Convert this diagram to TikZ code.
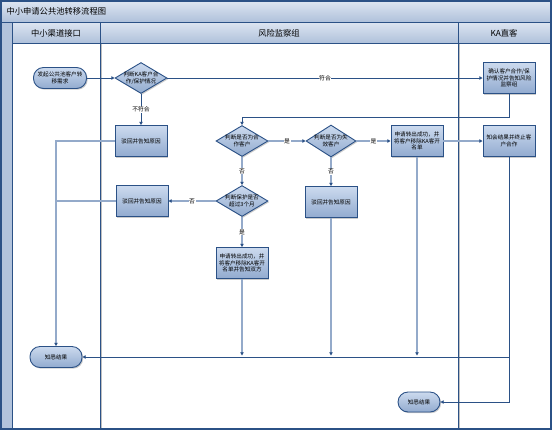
\documentclass[tikz,border=0pt]{standalone}
\usepackage{fontspec}
\setmainfont{Noto Sans CJK SC}
\usetikzlibrary{shapes.geometric,shadows,arrows.meta}
\definecolor{dk}{HTML}{2B5186}
\definecolor{lt}{HTML}{94AACA}
\definecolor{ftop}{HTML}{CCDAEE}
\definecolor{fbot}{HTML}{92ABCF}
\definecolor{htop}{HTML}{DDE5F1}
\definecolor{hbot}{HTML}{AFC1DB}
\definecolor{strip}{HTML}{B2C3DC}
\begin{document}
\begin{tikzpicture}[x=1pt,y=-1pt,
  shad/.style={drop shadow={shadow xshift=1.2pt,shadow yshift=-1.2pt,fill=black!40,opacity=0.5}},
  box/.style={rectangle,draw=dk,line width=0.9pt,top color=ftop,bottom color=fbot,
    minimum width=52pt,minimum height=31pt,inner sep=0.5pt,
    font=\fontsize{5.6}{6.8}\selectfont,align=center,shad},
  term/.style={box,rounded corners=10pt,minimum height=21pt},
  dia/.style={diamond,draw=dk,line width=0.9pt,top color=ftop,bottom color=fbot,
    minimum width=52pt,minimum height=31pt,inner sep=0pt,shad},
  dtext/.style={font=\fontsize{5.6}{6.8}\selectfont,align=center,inner sep=0pt},
  tip/.style={-{Triangle[length=3.2pt,width=3.4pt,color=dk]}},
  dkl/.style={draw=dk,line width=0.9pt,tip},
  ltl/.style={draw=lt,line width=1.7pt,tip},
  ltn/.style={draw=lt,line width=1.7pt},
  lbl/.style={fill=white,inner sep=0.6pt,font=\fontsize{5.8}{7}\selectfont},
  hdr/.style={font=\fontsize{8.3}{10}\selectfont}
]
\useasboundingbox (0,0) rectangle (554,432);
% frame
\fill[top color=htop,bottom color=hbot] (1,1) rectangle (551,22);
\fill[top color=htop,bottom color=hbot] (12,22) rectangle (551,43);
\fill[strip] (1,22) rectangle (12,429);
\draw[black!25,line width=1pt] (101.5,43) -- (101.5,429) (459.5,43) -- (459.5,429);
\draw[dk,line width=1pt] (1,22) -- (551,22) (12,43) -- (551,43)
  (12,22) -- (12,429) (100,22) -- (100,429) (458,22) -- (458,429);
\draw[dk,line width=1.2pt] (1,1) rectangle (551,429);
\node[hdr,anchor=west] (title) at (3,11.5) {中小申请公共池转移流程图};
\node[hdr] (h1) at (56,33) {中小渠道接口};
\node[hdr] (h2) at (279,33) {风险监察组};
\node[hdr] (h3) at (504,33) {KA直客};
% nodes
\node[term,minimum width=53pt] (start) at (60,78) {发起公共池客户转\\移需求};
\node[dia] (d1) at (141,78) {};
\node[dtext] (d1t) at (d1) {判断KA客户合\\作/保护情况};
\node[box] (b1) at (141,141) {驳回并告知原因};
\node[box] (ka1) at (509,78) {确认客户合作/保\\护情况并告知风险\\监察组};
\node[dia] (d2) at (242,141) {};
\node[dtext] (d2t) at (d2) {判断是否为合\\作客户};
\node[dia,minimum width=50pt,minimum height=32pt] (d3) at (331,141) {};
\node[dtext] (d3t) at (d3) {判断是否为失\\效客户};
\node[box] (ok1) at (417,141) {申请转出成功，并\\将客户移除KA客开\\名单};
\node[box] (ka2) at (509,141) {知会结果并终止客\\户合作};
\node[box] (b3) at (331,202) {驳回并告知原因};
\node[dia] (d4) at (242,201) {};
\node[dtext] (d4t) at (d4) {判断保护是否\\超过3个月};
\node[box] (b2) at (142,201) {驳回并告知原因};
\node[box] (b4) at (242,263) {申请转出成功，并\\将客户移除KA客开\\名单并告知双方};
\node[term] (end1) at (56,357) {知悉结果};
\node[term,minimum width=42pt,minimum height=20pt] (end2) at (419,402) {知悉结果};
% helper coordinates
\coordinate (k1) at (242,117);
\coordinate (j2) at (56,201);
\coordinate (m1) at (417,355.5);
\coordinate (m3) at (331,355.5);
\coordinate (m4) at (242,355.5);
% connectors
\draw[dkl] (start) -- (d1);
\draw[dkl] (d1) -- node[lbl] {不符合} (b1);
\draw[dkl] (d1) -- node[lbl] {符合} (ka1);
\draw[dkl] (ka1.south) |- (k1) -- (d2);
\draw[ltl] (d2) -- node[lbl] {是} (d3);
\draw[ltl] (d3) -- node[lbl] {是} (ok1);
\draw[ltl] (ok1) -- (ka2);
\draw[ltl] (d3) -- node[lbl] {否} (b3);
\draw[ltl] (d2) -- node[lbl] {否} (d4);
\draw[ltl] (d4) -- node[lbl] {否} (b2);
\draw[ltl] (d4) -- node[lbl] {是} (b4);
\draw[ltl] (b1.west) -| (end1.north);
\draw[ltn] (b2.west) -- (j2);
\draw[ltl] (b3) -- (m3);
\draw[ltl] (ok1) -- (m1);
\draw[ltl] (b4) -- (m4);
\draw[dkl] (ka2.south) |- (end1.east);
\draw[dkl] (ka2.south) |- (end2.east);
\end{tikzpicture}
\end{document}
